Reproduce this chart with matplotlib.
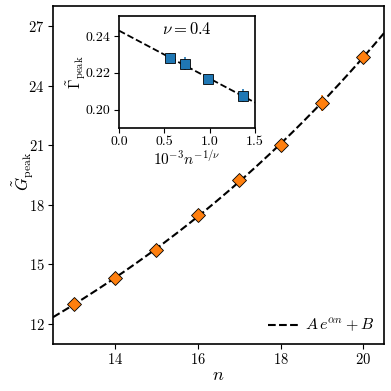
import numpy as np
import matplotlib
matplotlib.use("Agg")
import matplotlib.pyplot as plt

plt.rcParams["font.family"] = "serif"
plt.rcParams["font.serif"] = ["cmr10"]
plt.rcParams["mathtext.fontset"] = "cm"
plt.rcParams["axes.formatter.use_mathtext"] = True
plt.rcParams["font.size"] = 10

# main panel data
n_vals = np.array([13, 14, 15, 16, 17, 18, 19, 20])
G_peak = np.array([13.0, 14.31, 15.72, 17.48, 19.26, 21.0, 23.1, 25.46])
G_err = np.array([0.1, 0.12, 0.12, 0.15, 0.2, 0.15, 0.4, 0.15])

# inset data
x_inset = np.array([0.559, 0.727, 0.977, 1.364])
Gamma_peak = np.array([0.2281, 0.2249, 0.2168, 0.2076])
Gamma_err = np.array([0.0025, 0.0035, 0.002, 0.0035])

# fit A*exp(alpha*n) + B (scan alpha, linear solve for A, B)
best = None
for alpha in np.linspace(0.01, 0.5, 500):
    M = np.column_stack([np.exp(alpha * n_vals), np.ones(len(n_vals))])
    coef = np.linalg.lstsq(M, G_peak, rcond=None)[0]
    r = np.sum((M @ coef - G_peak) ** 2)
    if best is None or r < best[0]:
        best = (r, alpha, coef)
_, alpha, (A, B) = best

fig = plt.figure(figsize=(3.91, 3.91), dpi=100)
ax = fig.add_axes([53 / 391, 1 - 344 / 391, 331 / 391, 338 / 391])

nn = np.linspace(12.5, 20.5, 200)
ax.plot(nn, A * np.exp(alpha * nn) + B, "k--", lw=1.5, label=r"$A\,e^{\alpha n}+B$", zorder=2)
ax.errorbar(n_vals, G_peak, yerr=G_err, fmt="D", color="#ff7f0e", ecolor="#ff7f0e",
            mec="k", mew=0.6, ms=7, elinewidth=1.2, zorder=3)
ax.set_xlim(12.5, 20.5)
ax.set_ylim(11, 28)
ax.set_xticks([14, 16, 18, 20])
ax.set_yticks([12, 15, 18, 21, 24, 27])
ax.set_xlabel(r"$n$", fontsize=13, labelpad=0)
ax.set_ylabel(r"$\tilde{G}_{\rm peak}$", fontsize=12)
ax.yaxis.set_label_coords(-0.052, 0.51)
ax.tick_params(labelsize=10.5, length=3.5, pad=2.5)
for s in ax.spines.values():
    s.set_linewidth(1.2)
ax.legend(loc="lower right", frameon=False, fontsize=11.5, handlelength=2.0,
          handletextpad=0.3, borderaxespad=0.2)

ins = fig.add_axes([119 / 391, 1 - 128 / 391, 136 / 391, 112 / 391])
k, b = np.polyfit(x_inset, Gamma_peak, 1)
xx = np.linspace(0, 1.5, 50)
ins.plot(xx, k * xx + b, "k--", lw=1.3, zorder=2)
ins.errorbar(x_inset, Gamma_peak, yerr=Gamma_err, fmt="s", color="#1f77b4", ecolor="#1f77b4",
             mec="k", mew=0.6, ms=7, elinewidth=1.2, zorder=3)
ins.set_xlim(0, 1.5)
ins.set_ylim(0.19, 0.251)
ins.set_xticks([0.0, 0.5, 1.0, 1.5])
ins.set_yticks([0.20, 0.22, 0.24])
ins.yaxis.set_major_formatter(matplotlib.ticker.FormatStrFormatter("%.2f"))
ins.xaxis.set_major_formatter(matplotlib.ticker.FormatStrFormatter("%.1f"))
ins.tick_params(labelsize=10, length=3.5, pad=2.5)
ins.set_xlabel(r"$10^{-3}n^{-1/\nu}$", fontsize=11, labelpad=1)
ins.set_ylabel(r"$\tilde{\Gamma}_{\rm peak}$", fontsize=11)
ins.yaxis.set_label_coords(-0.228, 0.5)
ins.text(0.5, 0.88, r"$\nu = 0.4$", transform=ins.transAxes, ha="center", va="center", fontsize=12)
for s in ins.spines.values():
    s.set_linewidth(1.2)

fig.savefig("out.png", dpi=100)
